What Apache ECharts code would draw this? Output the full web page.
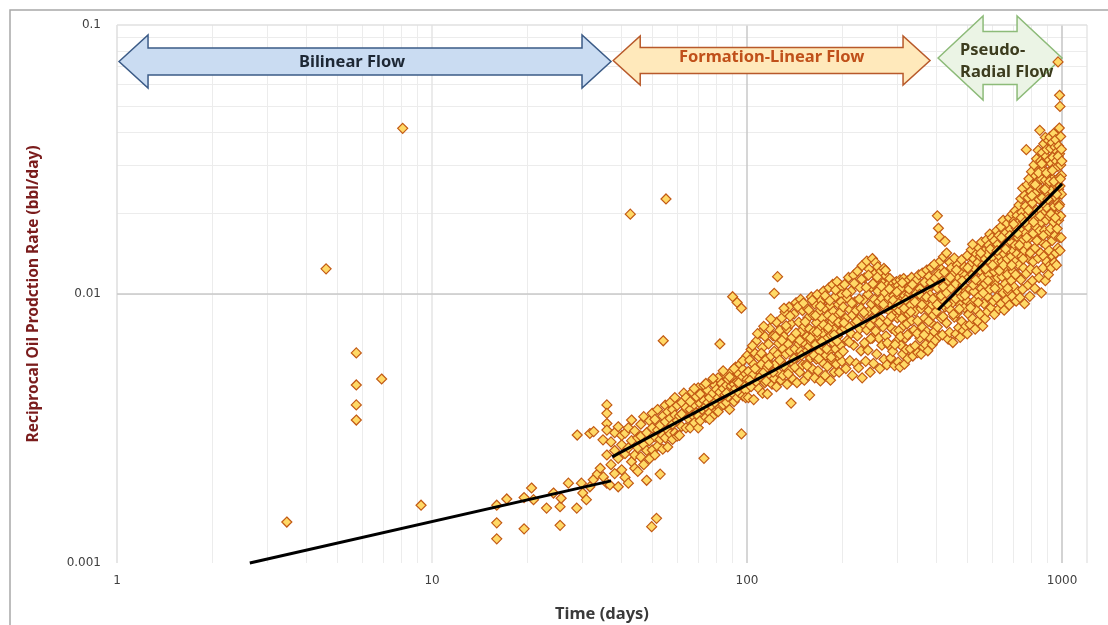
<!DOCTYPE html>
<html>
<head>
<meta charset="utf-8">
<script src="https://cdn.jsdelivr.net/npm/echarts@6/dist/echarts.min.js"></script>
<style>
  html, body { margin: 0; padding: 0; background: #ffffff; }
  #chart { width: 1108px; height: 625px; }
</style>
</head>
<body>
<div id="chart"></div>
<script>
// ---- Reciprocal oil rate vs time, one [day, 1/q] pair per point ----

// early-time and stray points (before ~37 days, plus outliers)
const earlyPoints = [
  [3.46,0.00142],[4.61,0.0124],[5.75,0.00604],[5.75,0.00459],[5.75,0.00387],[5.75,0.0034],[6.92,0.00483],[8.07,0.0413],[9.23,0.00164],
  [16.05,0.00164],[16.05,0.00141],[16.05,0.00123],[17.27,0.00173],[19.6,0.00134],[19.6,0.00175],[20.7,0.0019],[21.0,0.00172],
  [23.1,0.0016],[24.3,0.00182],[25.5,0.00162],[25.5,0.00138],[25.7,0.00174],[27.1,0.00198],[28.8,0.0016],[28.9,0.00299],
  [29.8,0.00198],[30.1,0.00182],[30.9,0.00172],[31.7,0.00192],[31.7,0.00303],[32.5,0.00204],[32.6,0.00308],[33.5,0.00214],
  [34.2,0.00225],[34.9,0.00287],[35.0,0.00209],[35.9,0.00387],[35.9,0.0036],[35.9,0.0033],[35.9,0.00312],[35.9,0.00252],
  [35.9,0.00198],[36.7,0.00195],
  [42.6,0.0198],[55.3,0.02256],[54.2,0.0067],[49.8,0.001365],[51.6,0.001466]
];

// formation-linear period, 37 to 200 days
const linearPoints = [
  [37,0.00282],[37,0.00232],[38,0.00262],[38,0.00215],[38,0.00305],[39,0.00321],[39,0.00245],[39,0.00192],
  [40,0.00275],[40,0.00222],[40,0.00298],[41,0.00304],[41,0.00255],[41,0.00208],[42,0.00268],[42,0.00198],[42,0.00318],
  [43,0.0034],[43,0.00285],[43,0.00238],[44,0.00252],[44,0.0031],[44,0.00225],[45,0.00292],[45,0.00219],[45,0.00268],
  [46,0.00328],[46,0.00248],[46,0.00296],[47,0.00275],[47,0.0035],[47,0.00232],[48,0.00203],[48,0.00305],[48,0.00262],
  [49,0.00338],[49,0.00285],[49,0.00244],[50,0.00318],[50,0.00263],[50,0.0036],[51,0.00295],[51,0.00342],[51,0.00252],
  [52,0.00312],[52,0.00272],[52,0.00372],[53,0.00214],[53,0.00325],[53,0.00288],[54,0.00352],[54,0.00298],[54,0.00265],
  [55,0.00335],[55,0.00386],[55,0.00292],[56,0.00312],[56,0.0027],[56,0.00365],[57,0.00345],[57,0.00302],[57,0.00395],
  [58,0.00328],[58,0.00288],[58,0.00372],[59,0.00355],[59,0.00305],[59,0.00412],[60,0.00338],[60,0.00296],[60,0.00385],
  [61,0.00352],[61,0.00298],[62,0.00395],[62,0.00322],[63,0.00362],[63,0.00428],[64,0.00318],[64,0.00378],
  [65,0.00405],[65,0.00345],[66,0.00372],[66,0.00318],[67,0.00432],[67,0.00355],[68,0.00388],[68,0.00332],
  [69,0.00415],[69,0.00362],[70,0.00448],[70,0.00352],[70,0.00318],[71,0.00392],[71,0.00338],[72,0.00425],[72,0.00372],
  [73,0.00458],[73,0.00245],[73,0.00402],[74,0.00382],[74,0.00348],[75,0.00438],[75,0.00395],[76,0.00412],[76,0.00362],
  [77,0.00472],[77,0.00385],[78,0.00428],[78,0.00352],[79,0.00395],[79,0.00458],[80,0.00442],[80,0.00368],
  [81,0.00488],[81,0.00412],[82,0.00652],[82,0.00378],[82,0.00432],[83,0.00465],[83,0.00402],[84,0.00388],[84,0.00445],
  [85,0.00502],[85,0.00422],[86,0.00458],[86,0.00395],[87,0.00415],[87,0.00482],[88,0.00372],[88,0.00438],
  [89,0.00512],[89,0.00455],[90,0.00428],[90,0.00485],[90,0.00977],[91,0.00398],[91,0.00462],[92,0.00535],[92,0.00445],
  [93,0.0093],[93,0.00472],[93,0.00412],[94,0.00505],[94,0.00432],[95,0.00455],[95,0.00548],[96,0.00885],[96,0.00302],[96,0.00488],
  [97,0.00418],[97,0.00525],[98,0.00465],[98,0.00572],[99,0.00505],[99,0.00438],[100,0.0059],[100,0.00482],
  [62,0.00358],[64,0.00412],[66,0.00398],[68,0.00445],[71,0.00425],[74,0.00465],[76,0.00342],[78,0.00485],
  [81,0.00365],[84,0.00518],[86,0.00428],[88,0.00492],[91,0.00528],[94,0.00468],[97,0.00565],[99,0.00412],
  [101,0.00515],[101,0.00412],[102,0.00568],[103,0.00452],[103,0.00622],[104,0.00498],[105,0.00548],[105,0.00405],
  [106,0.00602],[107,0.00472],[107,0.00668],[108,0.00525],[109,0.00445],[109,0.00585],[110,0.00715],[110,0.00492],
  [111,0.00548],[112,0.00428],[112,0.00632],[113,0.00512],[114,0.00695],[114,0.00468],[115,0.00572],[116,0.00535],[116,0.00425],
  [117,0.00652],[118,0.00498],[118,0.00745],[119,0.00588],[120,0.00462],[120,0.00542],[121,0.00698],
  [122,0.01006],[122,0.00612],[122,0.00485],[123,0.00548],[124,0.00785],[124,0.00452],[125,0.0116],[125,0.00595],
  [126,0.00655],[126,0.00508],[127,0.00732],[128,0.00478],[128,0.00562],[129,0.00815],[130,0.00625],[130,0.00498],
  [131,0.00695],[132,0.00535],[132,0.00858],[133,0.00598],[134,0.00462],[134,0.00742],[135,0.00652],[136,0.00518],[136,0.00895],
  [137,0.00612],[138,0.00393],[138,0.00775],[139,0.00558],[140,0.00688],[140,0.00482],[141,0.00842],[142,0.00625],[142,0.00535],
  [143,0.00928],[144,0.00712],[144,0.00468],[145,0.00582],[146,0.00785],[146,0.00652],[147,0.00512],[148,0.00955],[148,0.00612],
  [149,0.00728],[150,0.00545],[150,0.00868],[151,0.00662],[152,0.00478],[152,0.00758],[153,0.00605],[154,0.00892],[154,0.00548],
  [155,0.00695],[156,0.00498],[156,0.00815],[157,0.00638],[158,0.00421],[158,0.00742],[159,0.00578],[160,0.00975],[160,0.00665],
  [161,0.00528],[162,0.00835],[162,0.00612],[163,0.00725],[164,0.00488],[164,0.00918],[165,0.00648],[166,0.00572],[166,0.00782],
  [167,0.00995],[168,0.00695],[168,0.00518],[169,0.00858],[170,0.00612],[170,0.00742],[171,0.00475],[172,0.00945],[172,0.00668],
  [173,0.00812],[174,0.00555],[174,0.00715],[175,0.01025],[176,0.00632],[176,0.00885],[177,0.00498],[178,0.00768],[178,0.00592],
  [179,0.00962],[180,0.00685],[180,0.00538],[181,0.00835],[182,0.00728],[182,0.01055],[183,0.00615],[184,0.00478],[184,0.00905],
  [185,0.00702],[186,0.00785],[186,0.00568],[187,0.01085],[188,0.00658],[188,0.00862],[189,0.00512],[190,0.00742],[190,0.00975],
  [191,0.00625],[192,0.00822],[192,0.00548],[193,0.01112],[194,0.00695],[194,0.00588],[195,0.00915],[196,0.00768],[196,0.00512],
  [197,0.01045],[198,0.00645],[198,0.00855],[199,0.00728],[200,0.00562],[200,0.00995],
  [102,0.00478],[104,0.00642],[106,0.00528],[108,0.00712],[111,0.00602],[113,0.00758],[115,0.00475],[117,0.00545],
  [119,0.00808],[121,0.00512],[123,0.00695],[127,0.00568],[129,0.00672],[131,0.00885],[133,0.00762],[135,0.00505],
  [137,0.00828],[139,0.00688],[141,0.00575],[143,0.00715],[145,0.00898],[147,0.00672],[149,0.00592],[151,0.00925],
  [153,0.00788],[155,0.00542],[157,0.00872],[159,0.00685],[161,0.00948],[163,0.00592],[165,0.00832],[167,0.00722],
  [169,0.00575],[171,0.00902],[173,0.00665],[175,0.00768],[177,0.00985],[179,0.00625],[181,0.00748],[183,0.00945],
  [185,0.00582],[187,0.00812],[189,0.00705],[191,0.01035],[193,0.00668],[195,0.00785],[197,0.00598],[199,0.00935]
];

// late linear period, 200 to 425 days
const latePoints = [
  [202,0.00895],[202,0.00612],[204,0.01085],[204,0.00745],[206,0.00528],[206,0.00812],[208,0.00968],[208,0.00672],
  [210,0.01152],[210,0.00758],[212,0.00565],[212,0.00875],[214,0.00712],[214,0.01025],[216,0.00498],[216,0.00835],
  [218,0.01175],[218,0.00645],[220,0.00782],[220,0.00935],[222,0.00552],[222,0.00868],[224,0.01215],[224,0.00698],
  [226,0.00805],[226,0.00532],[228,0.01058],[228,0.00742],[230,0.00885],[230,0.00615],[232,0.01275],[232,0.00488],
  [234,0.00772],[234,0.00952],[236,0.00658],[236,0.01148],[238,0.00842],[238,0.00562],[240,0.01325],[240,0.00735],
  [242,0.00998],[242,0.00618],[244,0.00865],[244,0.01238],[246,0.00512],[246,0.00765],[248,0.01062],[248,0.00918],
  [250,0.01355],[250,0.00685],[252,0.00812],[252,0.00552],[254,0.01185],[254,0.00955],[256,0.00728],[256,0.01308],
  [258,0.00875],[258,0.00598],[260,0.01262],[260,0.01025],[262,0.00685],[262,0.00935],[264,0.01148],[264,0.00528],
  [266,0.00808],[266,0.01215],[268,0.00962],[268,0.00645],[270,0.01095],[270,0.00755],[272,0.00572],[272,0.01245],
  [274,0.00885],[274,0.01012],[276,0.00698],[276,0.01168],[278,0.00935],[278,0.00545],[280,0.01085],[280,0.00792],
  [282,0.00645],[282,0.00968],[284,0.01142],[284,0.00862],[286,0.00578],[286,0.01035],[288,0.00745],[288,0.00912],
  [290,0.01088],[290,0.00612],[292,0.00835],[292,0.00985],[294,0.00542],[294,0.01062],[296,0.00728],[296,0.00895],
  [298,0.01112],[298,0.00665],[300,0.00815],[300,0.00962],[302,0.00558],[302,0.01075],[304,0.00868],[304,0.00732],
  [306,0.01128],[306,0.00535],[308,0.00945],[308,0.00645],[310,0.01055],[310,0.00812],[312,0.00598],[312,0.00918],
  [314,0.01142],[314,0.00762],[316,0.00548],[316,0.00985],[318,0.00858],[318,0.00685],[320,0.01088],[320,0.00622],
  [322,0.00925],[322,0.00775],[324,0.00575],[324,0.01118],[326,0.00842],[326,0.00995],[328,0.00712],[328,0.01065],
  [330,0.00625],[330,0.00905],[333,0.01152],[333,0.00798],[336,0.00588],[336,0.00968],[339,0.01085],[339,0.00735],
  [342,0.00862],[342,0.00642],[345,0.01128],[345,0.01005],[348,0.00605],[348,0.00795],[351,0.00925],[351,0.01178],
  [354,0.00685],[354,0.01045],[357,0.00598],[357,0.00882],[360,0.01195],[360,0.00752],[363,0.00968],[363,0.00635],
  [366,0.01105],[366,0.00815],[369,0.00648],[369,0.00918],[372,0.01228],[372,0.00725],[375,0.01035],[375,0.00615],
  [378,0.00868],[378,0.01162],[381,0.00688],[381,0.00992],[384,0.01255],[384,0.00782],[387,0.00912],[387,0.00648],
  [390,0.01098],[390,0.00835],[393,0.00725],[393,0.01288],[396,0.00965],[396,0.00672],[399,0.01185],[399,0.00862],
  [402,0.01952],[402,0.00755],[402,0.01052],[405,0.01755],[405,0.00935],[408,0.01634],[408,0.00698],
  [411,0.01325],[411,0.01128],[414,0.00812],[414,0.01235],[417,0.00955],[417,0.00705],[420,0.01375],[420,0.01065],
  [425,0.0157],[425,0.00895],
  [203,0.00782],[207,0.01005],[211,0.00662],[215,0.00925],[219,0.01095],[223,0.00792],[227,0.00958],[231,0.01135],
  [235,0.00855],[239,0.01058],[243,0.01175],[247,0.00682],[251,0.01092],[255,0.00868],[259,0.01155],[263,0.00782],
  [267,0.01068],[271,0.00915],[275,0.01225],[279,0.00658],[283,0.01045],[287,0.00825],[291,0.00948],[295,0.00648],
  [299,0.01018],[303,0.00922],[307,0.00695],[311,0.01102],[315,0.00885],[319,0.00952],[323,0.00705],[327,0.01042],
  [331,0.00858],[335,0.01085],[341,0.00935],[347,0.00712],[353,0.00998],[359,0.00912],[365,0.00705],[371,0.00975],
  [377,0.00792],[383,0.01105],[389,0.00958],[395,0.01145],[401,0.00915],[407,0.01185],[413,0.00985],[419,0.00825],
  [423,0.01205]
];

// pseudo-radial period, 430 to 1000 days
const radialPoints = [
  [430,0.0142],[430,0.0078],[430,0.0101],[435,0.0068],[435,0.0112],[440,0.0131],[440,0.0088],[440,0.0072],
  [445,0.0105],[445,0.0125],[450,0.0066],[450,0.0093],[450,0.0118],[455,0.0082],[455,0.0136],
  [460,0.0109],[460,0.0071],[460,0.0096],[465,0.0128],[465,0.0085],[470,0.0075],[470,0.0115],[470,0.0102],
  [475,0.0122],[475,0.0069],[475,0.0091],[480,0.0134],[480,0.0098],[480,0.0079],[485,0.0108],[485,0.0073],
  [490,0.0126],[490,0.0089],[490,0.0117],[495,0.0076],[495,0.0102],[500,0.0139],[500,0.0094],[500,0.0071],
  [505,0.0115],[505,0.0084],[510,0.0128],[510,0.0104],[510,0.0077],[515,0.0146],[515,0.0092],
  [520,0.0153],[520,0.0118],[520,0.0081],[525,0.0102],[525,0.0135],[530,0.0074],[530,0.0124],[530,0.0095],
  [535,0.0141],[535,0.0087],[540,0.0112],[540,0.0131],[540,0.0079],[545,0.0098],[545,0.0148],
  [550,0.0122],[550,0.0084],[550,0.0138],[555,0.0105],[555,0.0156],[560,0.0076],[560,0.0128],[560,0.0115],
  [565,0.0092],[565,0.0144],[570,0.0135],[570,0.0081],[570,0.0109],[575,0.0159],[575,0.0122],
  [580,0.0098],[580,0.0141],[580,0.0086],[585,0.0118],[585,0.0152],[590,0.0167],[590,0.0104],[590,0.0132],
  [595,0.0089],[595,0.0125],[600,0.0145],[600,0.0112],[600,0.0162],[605,0.0094],[605,0.0136],
  [610,0.0121],[610,0.0158],[610,0.0084],[615,0.0148],[615,0.0108],[620,0.0131],[620,0.0172],[620,0.0097],
  [625,0.0115],[625,0.0153],[630,0.0088],[630,0.0139],[630,0.0165],[635,0.0124],[635,0.0105],
  [640,0.0178],[640,0.0146],[640,0.0092],[645,0.0132],[645,0.0116],[650,0.0188],[650,0.0158],[650,0.0101],
  [655,0.0087],[655,0.0141],[660,0.0168],[660,0.0124],[660,0.0109],[665,0.0152],[665,0.0095],
  [670,0.0183],[670,0.0135],[670,0.0118],[675,0.0162],[675,0.0102],[680,0.0145],[680,0.0192],[680,0.0091],
  [685,0.0127],[685,0.0174],[690,0.0112],[690,0.0156],[690,0.0138],[695,0.0198],[695,0.0098],
  [700,0.0166],[700,0.0121],[700,0.0145],[705,0.0187],[705,0.0106],[710,0.0132],[710,0.0204],[710,0.0152],
  [715,0.0094],[715,0.0176],[720,0.0141],[720,0.0118],[720,0.0196],[725,0.0162],[725,0.0102],
  [730,0.0214],[730,0.0128],[730,0.0185],[735,0.0149],[735,0.0097],[740,0.0172],[740,0.0226],[740,0.0113],
  [745,0.0138],[745,0.0201],[750,0.0158],[750,0.0247],[750,0.0104],[755,0.0186],[755,0.0125],
  [760,0.0232],[760,0.0145],[760,0.0092],[765,0.0168],[765,0.0212],[770,0.0344],[770,0.0119],[770,0.0195],
  [775,0.0255],[775,0.0152],[780,0.0178],[780,0.0108],[780,0.0228],[785,0.0135],[785,0.0268],
  [790,0.0206],[790,0.0162],[790,0.0098],[795,0.0241],[795,0.0124],[800,0.0188],[800,0.0285],[800,0.0145],
  [805,0.0112],[805,0.0218],[810,0.0256],[810,0.0168],[810,0.0132],[815,0.0302],[815,0.0195],
  [820,0.0148],[820,0.0236],[820,0.0105],[825,0.0275],[825,0.0178],[830,0.0122],[830,0.0318],[830,0.0205],
  [835,0.0158],[835,0.0262],[840,0.0342],[840,0.0192],[840,0.0136],[845,0.0225],[845,0.0115],[845,0.0288],
  [850,0.0406],[850,0.0172],[850,0.0248],[855,0.0142],[855,0.0312],[855,0.0205],[860,0.0268],[860,0.0101],[860,0.0185],
  [865,0.0335],[865,0.0156],[865,0.0228],[870,0.0125],[870,0.0292],[870,0.0198],[875,0.0362],[875,0.0245],[875,0.0138],
  [880,0.0172],[880,0.0308],[880,0.0215],[885,0.0112],[885,0.0265],[885,0.0382],[890,0.0188],[890,0.0325],[890,0.0152],
  [895,0.0238],[895,0.0132],[895,0.0345],[900,0.0278],[900,0.0168],[900,0.0208],[905,0.0372],[905,0.0118],[905,0.0252],
  [910,0.0195],[910,0.0315],[910,0.0145],[916,0.0383],[916,0.0226],[916,0.0128],[920,0.0288],[920,0.0175],[920,0.0348],
  [925,0.0125],[925,0.0242],[925,0.0305],[930,0.0202],[930,0.0365],[930,0.0158],[935,0.0268],[935,0.0138],[935,0.0322],
  [940,0.0185],[940,0.0395],[940,0.0232],[945,0.0131],[945,0.0295],[945,0.0212],[950,0.0352],[950,0.0165],[950,0.0255],
  [955,0.0228],[955,0.0375],[955,0.0142],[960,0.0312],[960,0.0196],[960,0.0128],[965,0.0265],[965,0.0338],[965,0.0175],
  [970,0.0218],[970,0.0148],[970,0.0298],[975,0.0355],[975,0.0245],[975,0.0188],
  [980,0.0414],[980,0.0272],[980,0.0162],[971,0.0729],[982,0.0548],[982,0.0332],[982,0.0215],
  [985,0.0498],[985,0.0252],[985,0.0145],[990,0.0385],[990,0.0195],[990,0.0302],[995,0.0276],[995,0.0345],[995,0.0235],
  [432,0.0092],[442,0.0115],[452,0.0084],[462,0.0123],[472,0.0088],[482,0.0112],[492,0.0099],[502,0.0125],
  [512,0.0089],[522,0.0108],[532,0.0113],[542,0.0093],[552,0.0142],[562,0.0101],[572,0.0124],[582,0.0112],
  [592,0.0147],[602,0.0128],[612,0.0105],[622,0.0145],[632,0.0122],[642,0.0162],[652,0.0128],[662,0.0147],
  [672,0.0105],[682,0.0165],[692,0.0128],[702,0.0182],[712,0.0118],[722,0.0168],[732,0.0152],[742,0.0192],
  [752,0.0135],[762,0.0185],[772,0.0162],[782,0.0205],[792,0.0142],[802,0.0232],[812,0.0185],[822,0.0255],
  [832,0.0158],[842,0.0282],[852,0.0195],[862,0.0305],[872,0.0165],[882,0.0245],[892,0.0282],[902,0.0225],
  [912,0.0262],[922,0.0198],[932,0.0288],[942,0.0262],[952,0.0192],[962,0.0235],[972,0.0325],[978,0.0212],
  [988,0.0268],[993,0.0162],[998,0.0312]
];

// straight-line fits for each flow regime (end points)
const bilinearFit = [[2.64, 0.001], [37.0, 0.00202]];
const linearFit   = [[37.3, 0.00248], [425, 0.01138]];
const radialFit   = [[404, 0.00872], [1000, 0.02566]];

// axis ticks and labels
const dayTickLabels  = ['1', '10', '100', '1000'];
const rateTickLabels = ['0.001', '0.01', '0.1'];
const dayAxisMin = 1, dayAxisMax = 1200;
const rateAxisMin = 0.001, rateAxisMax = 0.1;

// gridline positions
const dayMinorGrid  = [2,3,4,5,6,7,8,9,20,30,40,50,60,70,80,90,200,300,400,500,600,700,800,900];
const rateMinorGrid = [0.002,0.003,0.004,0.005,0.006,0.007,0.008,0.009,0.02,0.03,0.04,0.05,0.06,0.07,0.08,0.09];
const dayMajorGrid  = [1, 10, 100, 1000];
const rateMajorGrid = [0.01, 0.1];

// flow-regime annotations (day spans along the top)
const regimeNames = ['Bilinear Flow', 'Formation-Linear Flow', 'Pseudo-\nRadial Flow'];
const regimeSpans = [[1.015, 37.0], [37.6, 381], [404, 1000]];

const gridLineData = [];
dayMinorGrid.forEach(v => gridLineData.push({ xAxis: v, lineStyle: { color: '#ececec', width: 1, type: 'solid' } }));
rateMinorGrid.forEach(v => gridLineData.push({ yAxis: v, lineStyle: { color: '#ececec', width: 1, type: 'solid' } }));
const majorColors = { 1: '#dedede', 10: '#e4e4e4', 100: '#c9c9c9', 1000: '#c4c4c4' };
dayMajorGrid.forEach(v => gridLineData.push({ xAxis: v, lineStyle: { color: majorColors[v], width: 1.5, type: 'solid' } }));
gridLineData.push({ xAxis: dayAxisMax, lineStyle: { color: '#e6e6e6', width: 1.5, type: 'solid' } });
rateMajorGrid.forEach(v => gridLineData.push({ yAxis: v, lineStyle: { color: v === 0.01 ? '#c9c9c9' : '#e0e0e0', width: 1.5, type: 'solid' } }));

const pointStyle = {
  type: 'scatter',
  symbol: 'diamond',
  symbolSize: [10, 10],
  itemStyle: { color: '#ffd966', borderColor: '#c35a14', borderWidth: 1.2, opacity: 1 },
  z: 60,
  silent: true,
  progressive: 0,
  animation: false
};

const fitStyle = {
  type: 'line',
  symbol: 'none',
  lineStyle: { color: '#000000', width: 3 },
  z: 61,
  clip: false,
  silent: true,
  animation: false
};

const option = {
  animation: false,
  backgroundColor: '#ffffff',
  grid: { left: 117, right: 21, top: 25, bottom: 62, containLabel: false, outerBoundsMode: 'none' },
  xAxis: {
    type: 'log', logBase: 10, min: dayAxisMin, max: dayAxisMax,
    name: 'Time (days)', nameLocation: 'middle', nameGap: 43,
    nameTextStyle: { fontFamily: 'Noto Sans', fontWeight: 'bold', fontSize: 16.5, color: '#3a3a3a' },
    axisLine: { show: false }, axisTick: { show: false }, splitLine: { show: false },
    axisLabel: {
      margin: 12, fontFamily: 'DejaVu Sans', fontSize: 12, color: '#404040',
      formatter: (v, i) => dayTickLabels[i] !== undefined ? dayTickLabels[i] : ''
    }
  },
  yAxis: {
    type: 'log', logBase: 10, min: rateAxisMin, max: rateAxisMax,
    name: 'Reciprocal Oil Prodction Rate (bbl/day)', nameLocation: 'middle', nameGap: 75,
    nameTextStyle: { fontFamily: 'Noto Sans', fontWeight: 'bold', fontSize: 15.5, color: '#7a1c1c' },
    axisLine: { show: false }, axisTick: { show: false }, splitLine: { show: false },
    axisLabel: {
      margin: 16, fontFamily: 'DejaVu Sans', fontSize: 12, color: '#404040',
      formatter: (v, i) => rateTickLabels[i] !== undefined ? rateTickLabels[i] : ''
    }
  },
  series: [
    {
      type: 'line', data: [], z: 1, silent: true, animation: false,
      markLine: { silent: true, symbol: ['none', 'none'], label: { show: false }, animation: false, data: gridLineData }
    },
    Object.assign({ name: 'early', data: earlyPoints }, pointStyle),
    Object.assign({ name: 'linear', data: linearPoints }, pointStyle),
    Object.assign({ name: 'late', data: latePoints }, pointStyle),
    Object.assign({ name: 'radial', data: radialPoints }, pointStyle),
    Object.assign({ name: 'bilinearFit', data: bilinearFit }, fitStyle),
    Object.assign({ name: 'linearFit', data: linearFit }, fitStyle),
    Object.assign({ name: 'radialFit', data: radialFit }, fitStyle)
  ]
};

const chart = echarts.init(document.getElementById('chart'), null, { renderer: 'canvas' });
chart.setOption(option);

// ---- regime arrows, placed along the day axis ----
const arrowLooks = [
  { fill: '#cadcf2', stroke: '#3b5b87', text: '#1d2734', font: 'bold 16.5px "Noto Sans"',
    cy: 61.5, head: 26.5, body: 13.5, hl: 29, dx: -13, dy: 0.5, align: 'center' },
  { fill: '#ffe9bb', stroke: '#b8592a', text: '#c0501a', font: 'bold 16.5px "Noto Sans"',
    cy: 60.5, head: 24.5, body: 13, hl: 27, dx: 0, dy: -3.5, align: 'center' },
  { fill: '#ebf4e5', stroke: '#8dbb79', text: '#3c3c1e', font: 'bold 16.5px "Noto Sans"',
    cy: 58, head: 42, body: 26.5, hl: 45, dx: -40, dy: 3.5, align: 'left' }
];

function doubleArrow(x0, x1, cy, hl, head, body) {
  return [
    [x0, cy], [x0 + hl, cy - head], [x0 + hl, cy - body], [x1 - hl, cy - body], [x1 - hl, cy - head],
    [x1, cy], [x1 - hl, cy + head], [x1 - hl, cy + body], [x0 + hl, cy + body], [x0 + hl, cy + head]
  ];
}

const graphics = [{
  type: 'rect', z: 0, silent: true,
  shape: { x: 10, y: 10, width: 1130, height: 640 },
  style: { fill: 'none', stroke: '#a8a8a8', lineWidth: 1.5 }
}];

regimeSpans.forEach((span, k) => {
  const look = arrowLooks[k];
  const x0 = chart.convertToPixel({ xAxisIndex: 0 }, span[0]);
  const x1 = chart.convertToPixel({ xAxisIndex: 0 }, span[1]);
  graphics.push({
    type: 'polygon', z: 50, silent: true,
    shape: { points: doubleArrow(x0, x1, look.cy, look.hl, look.head, look.body) },
    style: { fill: look.fill, stroke: look.stroke, lineWidth: 1.5 }
  });
  graphics.push({
    type: 'text', z: 51, silent: true,
    x: (x0 + x1) / 2 + look.dx, y: look.cy + look.dy,
    style: {
      text: regimeNames[k], fill: look.text, font: look.font,
      textAlign: look.align, textVerticalAlign: 'middle', lineHeight: 22
    }
  });
});

chart.setOption({ graphic: { elements: graphics } });
</script>
</body>
</html>
